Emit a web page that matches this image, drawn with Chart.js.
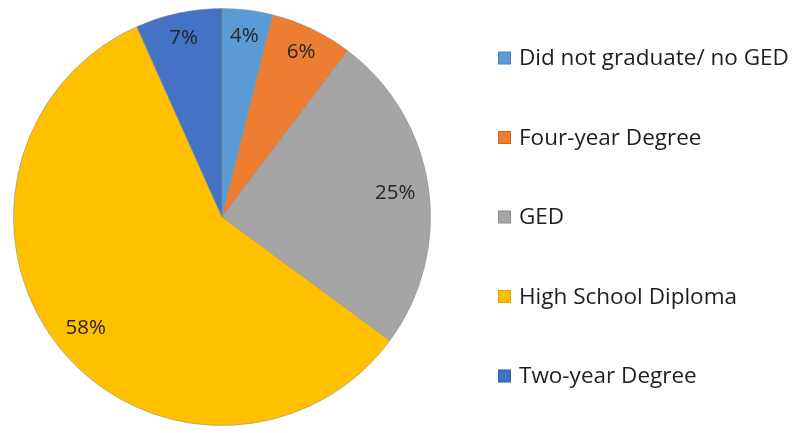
<!DOCTYPE html>
<html><head><meta charset="utf-8">
<script src="https://cdn.jsdelivr.net/npm/chart.js@4.4.1/dist/chart.umd.min.js"></script>
<style>html,body{margin:0;padding:0;background:#fff;overflow:hidden}#wrap{width:801px;height:433px;position:relative}</style>
</head><body><div id="wrap"><canvas id="c"></canvas></div>
<script>
const categories = ["Did not graduate/ no GED", "Four-year Degree", "GED", "High School Diploma", "Two-year Degree"];
const shares = [3.9, 6.4, 24.8, 58.2, 6.7];
const sliceColors = ["#5B9BD5", "#ED7D31", "#A5A5A5", "#FFC000", "#4472C4"];

const LABEL_FONT = "'Open Sans'";
const LEGEND_FONT = "'Open Sans'";

const pctLabels = {
  id: 'pctLabels',
  afterDatasetsDraw(chart) {
    const ctx = chart.ctx;
    const meta = chart.getDatasetMeta(0);
    ctx.save();
    ctx.font = "20.5px " + LABEL_FONT;
    ctx.fillStyle = "#262626";
    ctx.textAlign = "center";
    ctx.textBaseline = "middle";
    meta.data.forEach((el, i) => {
      const p = el.getProps(['x', 'y', 'startAngle', 'endAngle', 'outerRadius'], true);
      const mid = (p.startAngle + p.endAngle) / 2;
      const r = p.outerRadius * (shares[i] > 20 ? 0.84 : 0.88);
      ctx.fillText(Math.round(shares[i]) + "%", p.x + Math.cos(mid) * r, p.y + Math.sin(mid) * r + 1);
    });
    ctx.restore();
  }
};

const sideLegend = {
  id: 'sideLegend',
  afterDraw(chart) {
    const ctx = chart.ctx;
    const area = chart.chartArea;
    const boxX = area.right + 59.5;
    const box = 13;
    const gap = 79.5;
    const midY = (area.top + area.bottom) / 2;
    const n = chart.data.labels.length;
    ctx.save();
    ctx.font = "22.5px " + LEGEND_FONT;
    ctx.textBaseline = "middle";
    ctx.textAlign = "left";
    chart.data.labels.forEach((lab, i) => {
      const y = midY + (i - (n - 1) / 2) * gap;
      ctx.fillStyle = chart.data.datasets[0].backgroundColor[i];
      ctx.fillRect(boxX, y - box / 2, box, box);
      ctx.strokeStyle = "rgba(0,0,0,0.15)";
      ctx.lineWidth = 1;
      ctx.strokeRect(boxX + 0.5, y - box / 2 + 0.5, box - 1, box - 1);
      ctx.fillStyle = "#1e1e1e";
      ctx.fillText(lab, boxX + 21, y + 1);
    });
    ctx.restore();
  }
};

new Chart(document.getElementById('c'), {
  type: 'pie',
  data: {
    labels: categories,
    datasets: [{
      data: shares,
      backgroundColor: sliceColors,
      borderColor: "rgba(140,140,140,0.55)",
      borderWidth: 1
    }]
  },
  options: {
    responsive: true,
    maintainAspectRatio: false,
    animation: false,
    events: [],
    layout: { padding: { left: 5.5, right: 362.5, top: 8, bottom: 7 } },
    plugins: {
      tooltip: { enabled: false },
      legend: { display: false }
    }
  },
  plugins: [pctLabels, sideLegend]
});
</script>
</body></html>
